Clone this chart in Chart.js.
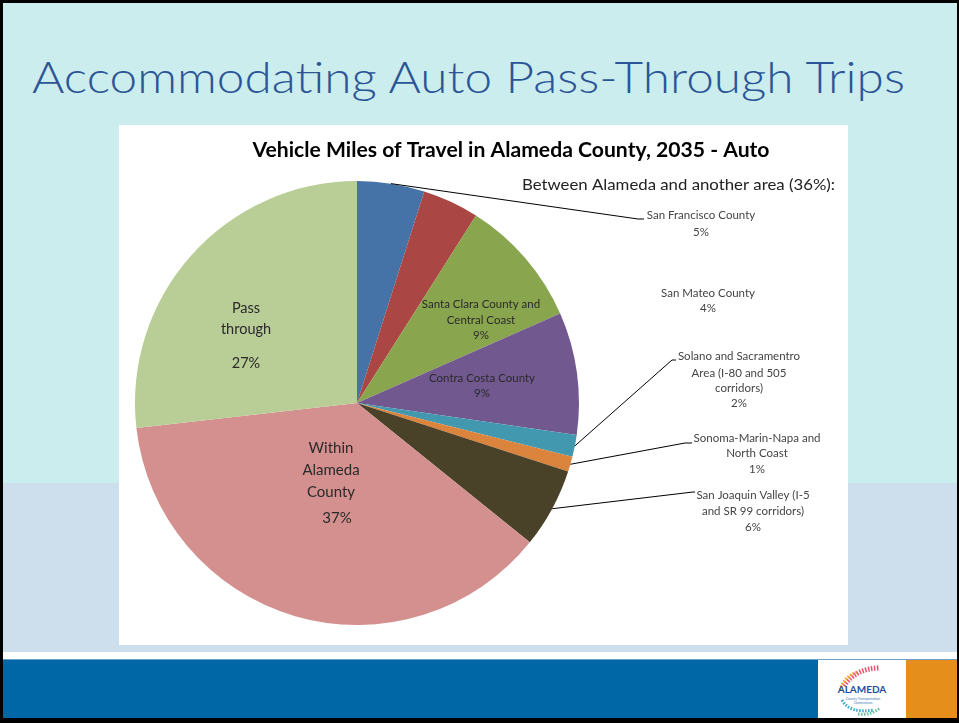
<!DOCTYPE html>
<html>
<head>
<meta charset="utf-8">
<script src="https://cdn.jsdelivr.net/npm/chart.js@4.4.1/dist/chart.umd.min.js"></script>
<style>
  html, body { margin: 0; padding: 0; }
  body { width: 959px; height: 723px; position: relative; overflow: hidden; background: #000; }
  .blk { position: absolute; }
  #slideTitle {
    position: absolute; left: 32px; top: 54px; white-space: nowrap;
    font: 300 44px Lato, "Open Sans", sans-serif; line-height: 44px;
    color: #2C5597; transform-origin: left top;
  }
  #box { position: absolute; left: 119px; top: 125px; width: 729px; height: 520px; background: #fff; }
  #box canvas { display: block; }
</style>
</head>
<body>
<div class="blk" style="left:3px;top:3px;width:954px;height:480px;background:#CBEDED"></div>
<div class="blk" style="left:3px;top:483px;width:954px;height:169px;background:#CDDFEC"></div>
<div class="blk" style="left:3px;top:652px;width:954px;height:7px;background:#fff"></div>
<div class="blk" style="left:3px;top:659px;width:954px;height:1px;background:#6E9CC6"></div>
<div class="blk" style="left:3px;top:660px;width:815px;height:58px;background:#0067A7"></div>
<div class="blk" style="left:906px;top:660px;width:51px;height:58px;background:#E68E1C"></div>
<svg class="blk" style="left:818px;top:660px" width="88" height="58" viewBox="0 0 88 58">
  <rect width="88" height="58" fill="#fff"/>
  <path d="M26 26 Q38 8 62 8" fill="none" stroke="#E8506A" stroke-width="5" stroke-dasharray="1.5 1.5"/>
  <path d="M22 30 Q26 16 40 12" fill="none" stroke="#F0A030" stroke-width="3" stroke-dasharray="1.5 1.5"/>
  <path d="M24 40 Q32 54 56 50" fill="none" stroke="#37A6C8" stroke-width="3" stroke-dasharray="1.5 1.5"/>
  <path d="M40 54 Q52 56 62 48" fill="none" stroke="#6BBF9A" stroke-width="3" stroke-dasharray="1.5 1.5"/>
  <text x="44" y="33" text-anchor="middle" font-family="Lato, sans-serif" font-weight="bold" font-size="10" fill="#1F4E9A">ALAMEDA</text>
  <text x="45" y="40" text-anchor="middle" font-family="Lato, sans-serif" font-size="3.5" fill="#3D7AB8">County Transportation</text>
  <text x="45" y="44" text-anchor="middle" font-family="Lato, sans-serif" font-size="3.5" fill="#3D7AB8">Commission</text>
</svg>
<div id="slideTitle">Accommodating Auto Pass-Through Trips</div>
<div id="box"><canvas id="pie" width="729" height="520"></canvas></div>
<script>
// ---- data ----
const chartTitle = 'Vehicle Miles of Travel in Alameda County, 2035 - Auto';
const groupHeader = 'Between Alameda and another area (36%):';
const categories = [
  'San Francisco County',
  'San Mateo County',
  'Santa Clara County and Central Coast',
  'Contra Costa County',
  'Solano and Sacramentro Area (I-80 and 505 corridors)',
  'Sonoma-Marin-Napa and North Coast',
  'San Joaquin Valley (I-5 and SR 99 corridors)',
  'Within Alameda County',
  'Pass through'
];
// how each label is broken into lines on the slide
const labelLines = [
  ['San Francisco County'],
  ['San Mateo County'],
  ['Santa Clara County and', 'Central Coast'],
  ['Contra Costa County'],
  ['Solano and Sacramentro', 'Area (I-80 and 505', 'corridors)'],
  ['Sonoma-Marin-Napa and', 'North Coast'],
  ['San Joaquin Valley (I-5', 'and SR 99 corridors)'],
  ['Within', 'Alameda', 'County'],
  ['Pass', 'through']
];
const shares = [4.9, 4.1, 9.4, 8.9, 1.6, 1.1, 5.8, 37.4, 26.8];
const sliceColors = ['#4572A7', '#AA4643', '#89A54E', '#71588F', '#4198AF', '#DB843D', '#4A4129', '#D3908F', '#B9CD96'];

// slide title fitted to its width
const st = document.getElementById('slideTitle');
st.style.transform = 'scaleX(' + (873 / st.offsetWidth) + ')';

const FONT = 'Lato, "Open Sans", sans-serif';

// label placement on the canvas: text centre x, line centre ys, optional leader elbow
const labelPlace = [
  { x: 582, ys: [90, 107], elbow: [519, 94], end: [525, 94], size: 11.5, color: '#444' },
  { x: 589, ys: [168, 183], size: 11.5, color: '#444' },
  { x: 362, ys: [179, 195, 210], size: 11.5, color: '#2a2a2a' },
  { x: 363, ys: [253, 268], size: 11.5, color: '#2a2a2a' },
  { x: 620, ys: [231, 248, 263, 278], elbow: [553, 235], end: [557, 235], size: 11.5, color: '#444' },
  { x: 638, ys: [313, 328, 344], elbow: [566, 318], end: [573, 318], size: 11.5, color: '#444' },
  { x: 634, ys: [370, 386, 402], elbow: [574, 367], end: [576, 367], size: 11.5, color: '#444' },
  { x: 212, ys: [323, 345, 367, 393], size: 15, color: '#2a2a2a', pctDx: 6 },
  { x: 127, ys: [183, 204, 238], size: 14.5, color: '#2a2a2a' }
];

function fitted(ctx, text, x, y, width, font, align) {
  ctx.font = font;
  const m = ctx.measureText(text).width;
  ctx.save();
  ctx.translate(x, y);
  ctx.scale(width / m, 1);
  ctx.textAlign = align;
  ctx.fillText(text, 0, 0);
  ctx.restore();
}

const labelPlugin = {
  id: 'labelPlugin',
  afterDraw(chart) {
    const ctx = chart.ctx;
    const arcs = chart.getDatasetMeta(0).data;
    ctx.save();
    ctx.textBaseline = 'alphabetic';
    ctx.fillStyle = '#000';
    fitted(ctx, chartTitle, 392, 32, 517, 'bold 21px ' + FONT, 'center');
    ctx.fillStyle = '#222';
    fitted(ctx, groupHeader, 403, 65, 313, '15px ' + FONT, 'left');

    arcs.forEach((arc, i) => {
      const p = labelPlace[i];
      if (p.elbow) {
        const mid = (arc.startAngle + arc.endAngle) / 2;
        const sx = arc.x + Math.cos(mid) * arc.outerRadius;
        const sy = arc.y + Math.sin(mid) * arc.outerRadius;
        ctx.strokeStyle = '#000';
        ctx.lineWidth = 1;
        ctx.beginPath();
        ctx.moveTo(sx, sy);
        ctx.lineTo(p.elbow[0], p.elbow[1]);
        ctx.lineTo(p.end[0], p.end[1]);
        ctx.stroke();
      }
      const lines = labelLines[i].concat([Math.round(shares[i]) + '%']);
      ctx.fillStyle = p.color;
      ctx.font = p.size + 'px ' + FONT;
      ctx.textAlign = 'center';
      ctx.textBaseline = 'middle';
      lines.forEach((t, k) => {
        const dx = (k === lines.length - 1 && p.pctDx) ? p.pctDx : 0;
        ctx.fillText(t, p.x + dx, p.ys[k]);
      });
    });
    ctx.restore();
  }
};

new Chart(document.getElementById('pie'), {
  type: 'pie',
  data: {
    labels: categories,
    datasets: [{
      data: shares,
      backgroundColor: sliceColors,
      borderWidth: 0
    }]
  },
  options: {
    responsive: false,
    animation: false,
    layout: { padding: { left: 16, right: 269, top: 56, bottom: 20 } },
    plugins: {
      legend: { display: false },
      tooltip: { enabled: false },
      title: { display: false }
    }
  },
  plugins: [labelPlugin]
});
</script>
</body>
</html>
